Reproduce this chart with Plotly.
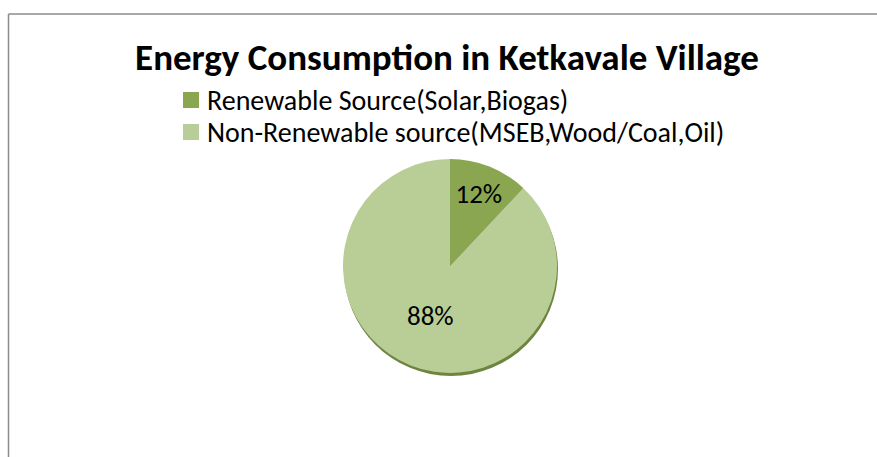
import plotly.graph_objects as go

labels = ["Renewable Source(Solar,Biogas)", "Non-Renewable source(MSEB,Wood/Coal,Oil)"]
values = [12, 88]
colors = ["#8AA651", "#B9CE97"]
title_text = "Energy Consumption in Ketkavale Village"

W, H = 877, 457
cx, cy, r = 450, 266, 107
FONT = "Carlito, Lato, sans-serif"

fig = go.Figure()
fig.add_trace(go.Pie(
    labels=labels, values=values, sort=False, direction="clockwise", rotation=0,
    marker=dict(colors=colors, line=dict(width=0)),
    textinfo="percent", texttemplate="%{percent:.0%}", textposition="inside",
    insidetextorientation="horizontal",
    textfont=dict(family=FONT, size=27, color="#000000"),
    domain=dict(x=[(cx - r) / W, (cx + r) / W], y=[1 - (cy + r) / H, 1 - (cy - r) / H]),
    hoverinfo="label+percent", showlegend=False,
))

shapes = [
    dict(type="circle", xref="paper", yref="paper", layer="below",
         x0=(cx - r + 1) / W, x1=(cx + r + 1) / W,
         y0=1 - (cy + r + 3) / H, y1=1 - (cy - r + 3) / H,
         fillcolor="#6E8540", line=dict(width=0)),
    dict(type="line", xref="paper", yref="paper", x0=8.5 / W, x1=1, y0=1 - 14 / H, y1=1 - 14 / H,
         line=dict(color="#8C8C8C", width=1.5)),
    dict(type="line", xref="paper", yref="paper", x0=8.5 / W, x1=8.5 / W, y0=0, y1=1 - 14 / H,
         line=dict(color="#8C8C8C", width=1.5)),
]

# custom legend (squares + text)
annotations = []
leg_x, leg_y0, leg_dy, sq = 183, 100, 32, 16
for i, (lab, col) in enumerate(zip(labels, colors)):
    yc = leg_y0 + i * leg_dy
    shapes.append(dict(type="rect", xref="paper", yref="paper",
                       x0=leg_x / W, x1=(leg_x + sq) / W,
                       y0=1 - (yc + sq / 2) / H, y1=1 - (yc - sq / 2) / H,
                       fillcolor=col, line=dict(width=0)))
    annotations.append(dict(text=lab, xref="paper", yref="paper", x=205 / W, y=1 - yc / H,
                            xanchor="left", yanchor="middle", showarrow=False,
                            font=dict(family=FONT, size=28, color="#000000")))

fig.update_layout(
    width=W, height=H,
    margin=dict(l=0, r=0, t=0, b=0),
    paper_bgcolor="white", plot_bgcolor="white",
    title=dict(text="<b>" + title_text + "</b>", x=447 / W, xanchor="center", y=1 - 57 / H, yanchor="middle",
               font=dict(family=FONT, size=37, color="#000000")),
    shapes=shapes,
    annotations=annotations,
    showlegend=False,
)

fig.write_html("out.html")
